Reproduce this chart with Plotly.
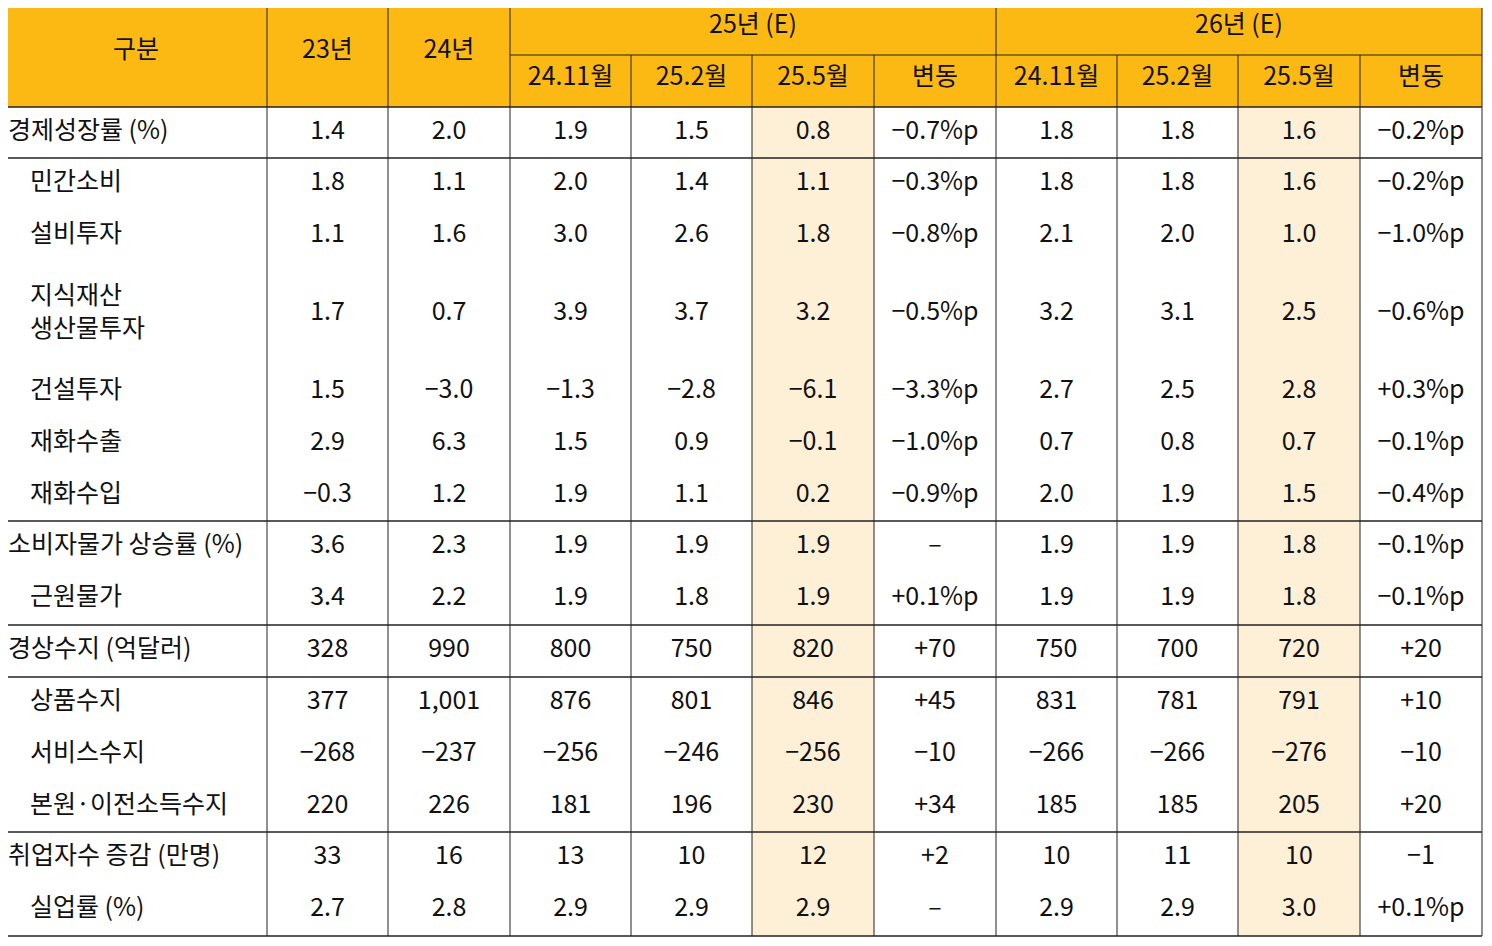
import plotly.graph_objects as go

row_labels = ["경제성장률 (%)", "민간소비", "설비투자", "지식재산<br>생산물투자", "건설투자", "재화수출", "재화수입",
              "소비자물가 상승률 (%)", "근원물가", "경상수지 (억달러)", "상품수지", "서비스수지", "본원·이전소득수지",
              "취업자수 증감 (만명)", "실업률 (%)"]
indent = [0, 1, 1, 1, 1, 1, 1, 0, 1, 0, 1, 1, 1, 0, 1]
sub_header = ["24.11월", "25.2월", "25.5월", "변동", "24.11월", "25.2월", "25.5월", "변동"]
y23 = ["1.4", "1.8", "1.1", "1.7", "1.5", "2.9", "−0.3", "3.6", "3.4", "328", "377", "−268", "220", "33", "2.7"]
y24 = ["2.0", "1.1", "1.6", "0.7", "−3.0", "6.3", "1.2", "2.3", "2.2", "990", "1,001", "−237", "226", "16", "2.8"]
f25_nov = ["1.9", "2.0", "3.0", "3.9", "−1.3", "1.5", "1.9", "1.9", "1.9", "800", "876", "−256", "181", "13", "2.9"]
f25_feb = ["1.5", "1.4", "2.6", "3.7", "−2.8", "0.9", "1.1", "1.9", "1.8", "750", "801", "−246", "196", "10", "2.9"]
f25_may = ["0.8", "1.1", "1.8", "3.2", "−6.1", "−0.1", "0.2", "1.9", "1.9", "820", "846", "−256", "230", "12", "2.9"]
f25_chg = ["−0.7%p", "−0.3%p", "−0.8%p", "−0.5%p", "−3.3%p", "−1.0%p", "−0.9%p", "–", "+0.1%p", "+70", "+45", "−10", "+34", "+2", "–"]
f26_nov = ["1.8", "1.8", "2.1", "3.2", "2.7", "0.7", "2.0", "1.9", "1.9", "750", "831", "−266", "185", "10", "2.9"]
f26_feb = ["1.8", "1.8", "2.0", "3.1", "2.5", "0.8", "1.9", "1.9", "1.9", "700", "781", "−266", "185", "11", "2.9"]
f26_may = ["1.6", "1.6", "1.0", "2.5", "2.8", "0.7", "1.5", "1.8", "1.8", "720", "791", "−276", "205", "10", "3.0"]
f26_chg = ["−0.2%p", "−0.2%p", "−1.0%p", "−0.6%p", "+0.3%p", "−0.1%p", "−0.4%p", "−0.1%p", "−0.1%p", "+20", "+10", "−10", "+20", "−1", "+0.1%p"]
data_cols = [y23, y24, f25_nov, f25_feb, f25_may, f25_chg, f26_nov, f26_feb, f26_may, f26_chg]

xe = [5, 267, 388, 510, 631, 752, 874, 996, 1117, 1238, 1360, 1482]
ye = [107, 158, 210, 262, 366, 418, 470, 521, 573, 625, 677, 729, 781, 832, 884, 936]
group_lines = [107, 158, 521, 625, 677, 832, 936]
ORANGE = "#FDB913"
HL = "#FDF0D6"
FONT = "Noto Sans CJK KR"

fig = go.Figure()
shapes = []
# header fill
shapes.append(dict(type="rect", x0=xe[0], x1=xe[-1], y0=5, y1=107, fillcolor=ORANGE, line_width=0, layer="below"))
# highlight the 25.5월 columns
for c in (5, 9):
    shapes.append(dict(type="rect", x0=xe[c], x1=xe[c + 1], y0=107, y1=936, fillcolor=HL, line_width=0, layer="below"))
# horizontal lines
shapes.append(dict(type="line", x0=xe[3], x1=xe[-1], y0=55, y1=55, line=dict(color="#222", width=1)))
for y in group_lines:
    shapes.append(dict(type="line", x0=xe[0], x1=xe[-1], y0=y, y1=y, line=dict(color="#222", width=1.5)))
# vertical lines
for i, x in enumerate(xe):
    top = 55 if i in (4, 5, 6, 8, 9, 10) else 5
    shapes.append(dict(type="line", x0=x, x1=x, y0=top, y1=936, line=dict(color="#222", width=1)))

# header text
hx = [(xe[0] + xe[1]) / 2, (xe[1] + xe[2]) / 2, (xe[2] + xe[3]) / 2, (xe[3] + xe[7]) / 2, (xe[7] + xe[11]) / 2]
hy = [52, 52, 52, 27, 27]
fig.add_trace(go.Scatter(x=hx, y=hy, mode="text", text=["구분", "23년", "24년", "25년 (E)", "26년 (E)"],
                         textfont=dict(family=FONT, size=25, color="#111"), hoverinfo="skip"))
fig.add_trace(go.Scatter(x=[(xe[i] + xe[i + 1]) / 2 for i in range(3, 11)], y=[79] * 8, mode="text", text=sub_header,
                         textfont=dict(family=FONT, size=25, color="#111"), hoverinfo="skip"))

yc = [(ye[i] + ye[i + 1]) / 2 for i in range(len(row_labels))]
fig.add_trace(go.Scatter(x=[8 + 22 * d for d in indent], y=yc, mode="text", text=row_labels, textposition="middle right",
                         textfont=dict(family=FONT, size=25, color="#111"), hoverinfo="skip"))
for j, col in enumerate(data_cols):
    fig.add_trace(go.Scatter(x=[(xe[j + 1] + xe[j + 2]) / 2] * len(col), y=yc, mode="text", text=col,
                             textfont=dict(family=FONT, size=25, color="#111"), hoverinfo="skip"))

# ranges offset by the page's 8px body margin
fig.update_layout(width=1492, height=946, margin=dict(l=0, r=0, t=0, b=0), showlegend=False,
                  plot_bgcolor="white", paper_bgcolor="white", shapes=shapes,
                  xaxis=dict(range=[8, 1500], visible=False, fixedrange=True),
                  yaxis=dict(range=[954, 8], visible=False, fixedrange=True))
fig.write_html("out.html")
